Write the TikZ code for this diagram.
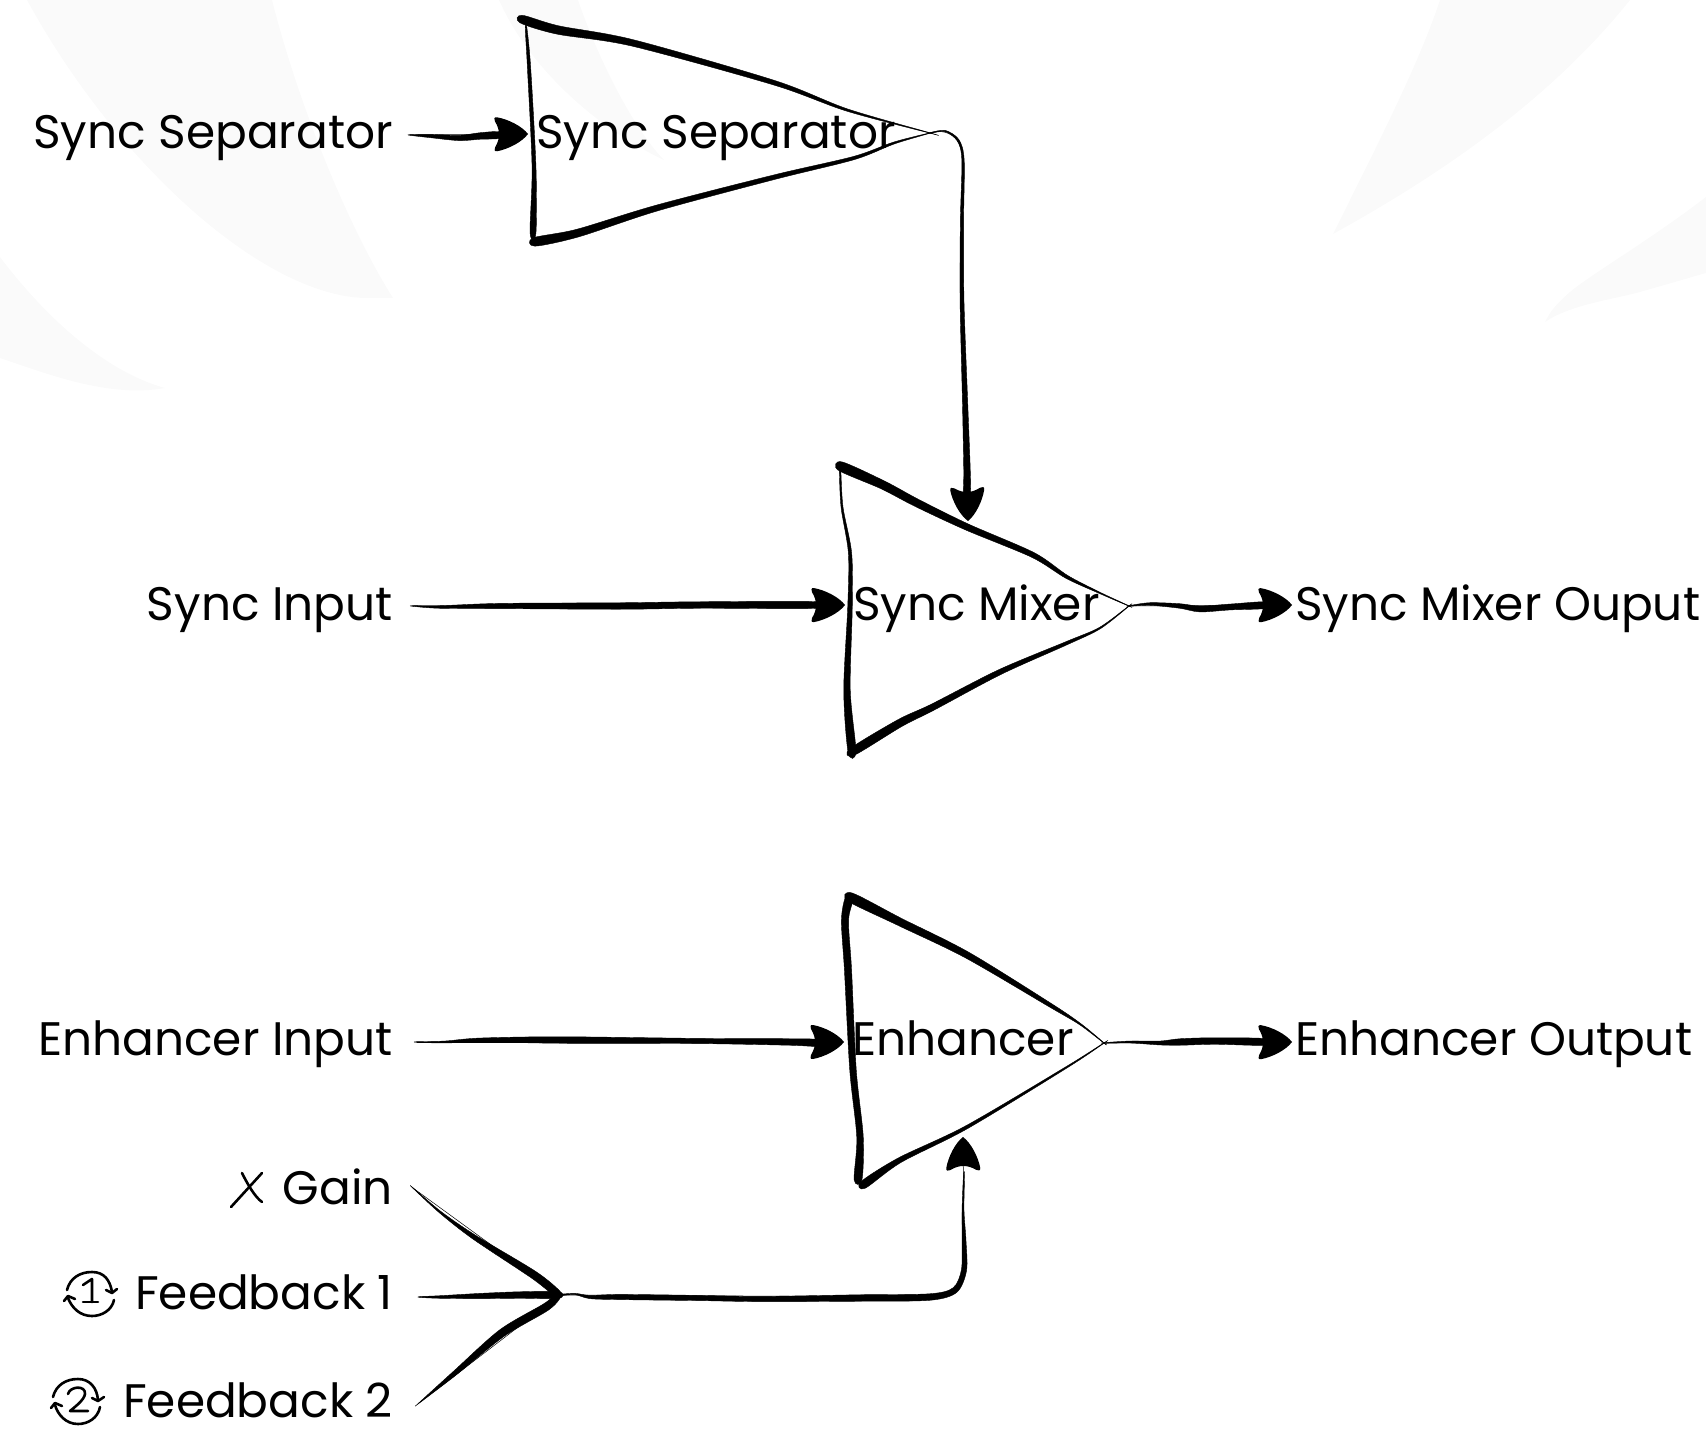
\documentclass[tikz,border=0pt]{standalone}
\usepackage{fontspec}
\setmainfont{Poppins}
\usetikzlibrary{arrows.meta}
\definecolor{wm}{HTML}{FAFAFA}
\pgfdeclarearrow{
  name=Sketch,
  setup code={\pgfarrowssettipend{0pt}\pgfarrowssetlineend{-22pt}\pgfarrowssetvisualbackend{-32pt}%
    \pgfarrowsupperhullpoint{0pt}{0pt}\pgfarrowsupperhullpoint{-34pt}{17pt}},
  drawing code={%
    \pgfsetlinewidth{0pt}%
    \pgfpathmoveto{\pgfqpoint{0pt}{0pt}}%
    \pgfpathcurveto{\pgfqpoint{-6pt}{8pt}}{\pgfqpoint{-20pt}{15pt}}{\pgfqpoint{-31pt}{17pt}}%
    \pgfpathcurveto{\pgfqpoint{-34pt}{17.5pt}}{\pgfqpoint{-34pt}{15pt}}{\pgfqpoint{-33pt}{13pt}}%
    \pgfpathcurveto{\pgfqpoint{-30pt}{8pt}}{\pgfqpoint{-29pt}{4pt}}{\pgfqpoint{-29pt}{0pt}}%
    \pgfpathcurveto{\pgfqpoint{-29pt}{-4pt}}{\pgfqpoint{-30pt}{-8pt}}{\pgfqpoint{-33pt}{-13pt}}%
    \pgfpathcurveto{\pgfqpoint{-34pt}{-15pt}}{\pgfqpoint{-34pt}{-17.5pt}}{\pgfqpoint{-31pt}{-17pt}}%
    \pgfpathcurveto{\pgfqpoint{-20pt}{-15pt}}{\pgfqpoint{-6pt}{-8pt}}{\pgfqpoint{0pt}{0pt}}%
    \pgfpathclose\pgfusepathqfill},
}
\tikzset{
  lab/.style={inner sep=0pt,font=\fontsize{47}{47}\selectfont,text=black},
  wire/.style={line width=.5pt,-{Sketch}},
  plain/.style={line width=.5pt},
  icon/.style={line width=2.6pt,line cap=round,line join=round},
  wmark/.style={fill=wm,draw=none}
}
% variable-width stroke: list of x/y/w
\newcommand\vstroke[1]{%
  \gdef\xsacc{}\gdef\ysacc{}\gdef\wsacc{}\gdef\lsep{}%
  \foreach \px/\py/\pw in {#1}{%
    \xdef\xsacc{\xsacc\lsep\px}\xdef\ysacc{\ysacc\lsep\py}\xdef\wsacc{\wsacc\lsep\pw}\gdef\lsep{,}%
  }%
  \edef\xs{{\xsacc}}\edef\ys{{\ysacc}}\edef\ws{{\wsacc}}%
  \pgfmathtruncatemacro\nn{dim(\xs)-1}%
  \gdef\lft{}\gdef\rgt{}%
  \foreach \i in {0,...,\nn}{%
    \pgfmathtruncatemacro\ia{max(\i-1,0)}%
    \pgfmathtruncatemacro\ib{min(\i+1,\nn)}%
    \pgfmathsetmacro\dx{\xs[\ib]-\xs[\ia]}%
    \pgfmathsetmacro\dy{\ys[\ib]-\ys[\ia]}%
    \pgfmathsetmacro\vl{veclen(\dx,\dy)}%
    \pgfmathsetmacro\ox{-\dy/\vl*\ws[\i]*.65}%
    \pgfmathsetmacro\oy{\dx/\vl*\ws[\i]*.65}%
    \pgfmathsetmacro\lx{\xs[\i]+\ox}\pgfmathsetmacro\ly{\ys[\i]+\oy}%
    \pgfmathsetmacro\rx{\xs[\i]-\ox}\pgfmathsetmacro\ry{\ys[\i]-\oy}%
    \xdef\lft{\lft(\lx,\ly)}\xdef\rgt{(\rx,\ry)\rgt}%
  }%
  \edef\doit{\noexpand\filldraw[line width=.4pt,line join=round] plot[smooth cycle,tension=.5] coordinates {\lft\rgt};}\doit
}
\begin{document}
\begin{tikzpicture}[x=1pt,y=-1pt]
\useasboundingbox (0,0) rectangle (1706,1431);
% watermark shapes
\path[wmark] (27,0) .. controls (120,170) and (270,300) .. (370,298) -- (393,298) .. controls (350,230) and (300,110) .. (272,0) -- cycle;
\path[wmark] (0,257) .. controls (40,310) and (100,370) .. (165,388) .. controls (110,398) and (50,375) .. (0,358) -- cycle;
\path[wmark] (499,0) .. controls (530,70) and (600,130) .. (664,160) .. controls (630,125) and (595,50) .. (578,0) -- cycle;
\path[wmark] (1440,0) .. controls (1420,60) and (1385,130) .. (1333,234) .. controls (1440,175) and (1550,100) .. (1630,0) -- cycle;
\path[wmark] (1706,197) .. controls (1650,240) and (1590,275) .. (1570,292) .. controls (1555,305) and (1550,312) .. (1545,322) .. controls (1570,305) and (1610,300) .. (1640,292) -- (1706,273) -- cycle;
% coordinates
\coordinate (sepTL) at (521,19); \coordinate (sepApex) at (930,133); \coordinate (sepBL) at (534,242);
\coordinate (mixTL) at (840,466); \coordinate (mixApex) at (1129,606); \coordinate (mixBL) at (851,752);
\coordinate (enhTL) at (849,895); \coordinate (enhApex) at (1104,1043); \coordinate (enhBL) at (860,1186);
\coordinate (sepInS) at (410,135); \coordinate (sepInE) at (528,134);
\coordinate (synS) at (413,606); \coordinate (synE) at (845,605);
\coordinate (mixOutE) at (1292,605);
\coordinate (enhInS) at (417,1042); \coordinate (enhInE) at (844,1042);
\coordinate (enhOutE) at (1292,1042);
\coordinate (sepMixE) at (968,521);
\coordinate (gainS) at (413,1188); \coordinate (fbOneS) at (420,1297); \coordinate (fbTwoS) at (419,1403);
\coordinate (join) at (560,1295); \coordinate (joinE) at (963,1137);
% labels
\node[lab,anchor=base east] (lSep) at (393,149) {Sync Separator};
\node[lab,anchor=base east] (lSyn) at (393,620) {Sync Input};
\node[lab,anchor=base east] (lEnh) at (393,1055.5) {Enhancer Input};
\node[lab,anchor=base east] (lGain) at (393,1204.5) {Gain};
\node[lab,anchor=base east] (lFb1) at (393,1309.5) {Feedback 1};
\node[lab,anchor=base east] (lFb2) at (393,1417) {Feedback 2};
\node[lab,anchor=base west] (tSep) at (536,149) {Sync Separator};
\node[lab,anchor=base west] (tMix) at (853,620) {Sync Mixer};
\node[lab,anchor=base west] (tEnh) at (852,1055.5) {Enhancer};
\node[lab,anchor=base west] (oMix) at (1295,620) {Sync Mixer Ouput};
\node[lab,anchor=base west] (oEnh) at (1295,1055.5) {Enhancer Output};
% triangles
\vstroke{526/27/1.2, 529/67/2.5, 534/167/3, 533/233/4.5}
\vstroke{521/19/6, 558/30/6.5, 633/43/5, 775/83/3.5, 847/110/1.8, 930/133/.3}
\vstroke{534/242/6.5, 578/233/6, 657/208/4.5, 775/177/3.5, 854/158/2.5, 894/143/1.5, 930/133/.3}
\vstroke{840/468/1, 842/507/1.5, 850/553/2.5, 850/607/3.5, 847/690/5, 852/752/6}
\vstroke{840/466/7, 883/485/6.5, 917/503/6, 967/527/5, 1033/555/4, 1067/577/2.5, 1100/593/1, 1129/606/.3}
\vstroke{852/752/6, 900/723/6, 933/707/5, 1000/672/4, 1067/643/2.5, 1100/628/1.2, 1129/606/.3}
\vstroke{850/896/6, 845/920/5.5, 848/970/5.5, 853/1070/5, 860/1137/5, 858/1180/6}
\vstroke{850/897/7, 900/922/6, 967/955/5, 1050/1005/3, 1080/1024/1.2, 1104/1043/.3}
\vstroke{1104/1043/.3, 1067/1067/1.2, 967/1127/2.5, 900/1160/4, 863/1185/6}
% connectors
\draw[wire] (sepInS) -- (sepInE);
\vstroke{410/135/.5, 430/136/2.5, 459/138/4, 480/136/5, 500/135/5}
\draw[wire] (sepApex) .. controls (945,128) and (964,135) .. (963,165) -- (962,220) -- (965,400) -- (sepMixE);
\vstroke{930/133/.5, 945/131/1, 958/140/1.5, 963/160/1.8, 962/220/2.5, 962/300/3, 965/400/4, 967/470/5, 967/495/5}
\draw[wire] (synS) -- (synE);
\vstroke{413/606/.5, 440/607/2, 500/606/4, 620/606/5, 700/605/5, 820/605/5}
\draw[wire] (mixApex) -- (mixOutE);
\vstroke{1129/606/.5, 1150/604/2, 1180/606/3.5, 1200/609/4.5, 1230/607/4.5, 1268/605/5}
\draw[wire] (enhInS) -- (enhInE);
\vstroke{417/1042/.5, 445/1042/1.5, 480/1040/3, 560/1040/5, 700/1041/4, 790/1042/5, 820/1043/5}
\draw[wire] (enhApex) -- (enhOutE);
\vstroke{1104/1043/.5, 1130/1042/1.5, 1160/1043/3, 1180/1042/5, 1215/1041/5, 1268/1042/5}
\draw[plain] (gainS) -- (join);
\vstroke{413/1188/.3, 440/1212/1.5, 474/1237/3.5, 534/1275/6, 559/1295/5}
\draw[plain] (fbOneS) -- (join);
\vstroke{420/1297/.6, 440/1297/2, 480/1296/4, 520/1295/5, 559/1295/5}
\draw[plain] (fbTwoS) -- (join);
\vstroke{419/1403/.3, 455/1373/3.5, 502/1333/6, 546/1307/6, 559/1295/4}
\draw[wire] (join) -- (930,1297) .. controls (955,1297) and (964,1290) .. (964,1260) -- (joinE);
\vstroke{560/1295/1, 575/1294/1, 590/1297/2.5, 620/1297/4, 700/1298/4, 760/1299/4, 860/1298/5, 930/1297/5, 955/1290/4.5, 964/1270/4, 964/1240/3, 963/1210/1.5, 964/1175/.8}
% Gain icon
\draw[icon] (231,1207) -- (262,1173);
\draw[icon] (242,1173) .. controls (248,1185) and (255,1197) .. (262,1202);
% Feedback 1 icon
\begin{scope}[icon]
\draw (67,1290) .. controls (70,1278) and (80,1272) .. (92,1272) .. controls (104,1272) and (110,1280) .. (112,1292);
\draw (106,1290) -- (112,1293) -- (117,1289);
\draw (114,1300) .. controls (112,1310) and (102,1316) .. (92,1316) .. controls (80,1316) and (72,1308) .. (68,1298);
\draw (64,1301) -- (68,1296) -- (75,1299);
\draw (83,1285) -- (92,1279) -- (92,1302);
\draw (83,1302) -- (98,1302);
\end{scope}
% Feedback 2 icon
\begin{scope}[icon]
\draw (53,1397) .. controls (56,1385) and (66,1379) .. (78,1379) .. controls (90,1379) and (97,1388) .. (98,1400);
\draw (92,1398) -- (98,1401) -- (104,1397);
\draw (100,1407) .. controls (98,1418) and (88,1424) .. (78,1424) .. controls (66,1424) and (58,1415) .. (55,1405);
\draw (51,1408) -- (55,1403) -- (62,1406);
\draw (68,1394) .. controls (70,1386) and (86,1385) .. (85,1394) .. controls (84,1400) and (76,1406) .. (70,1411) -- (88,1411);
\end{scope}
\end{tikzpicture}
\end{document}
